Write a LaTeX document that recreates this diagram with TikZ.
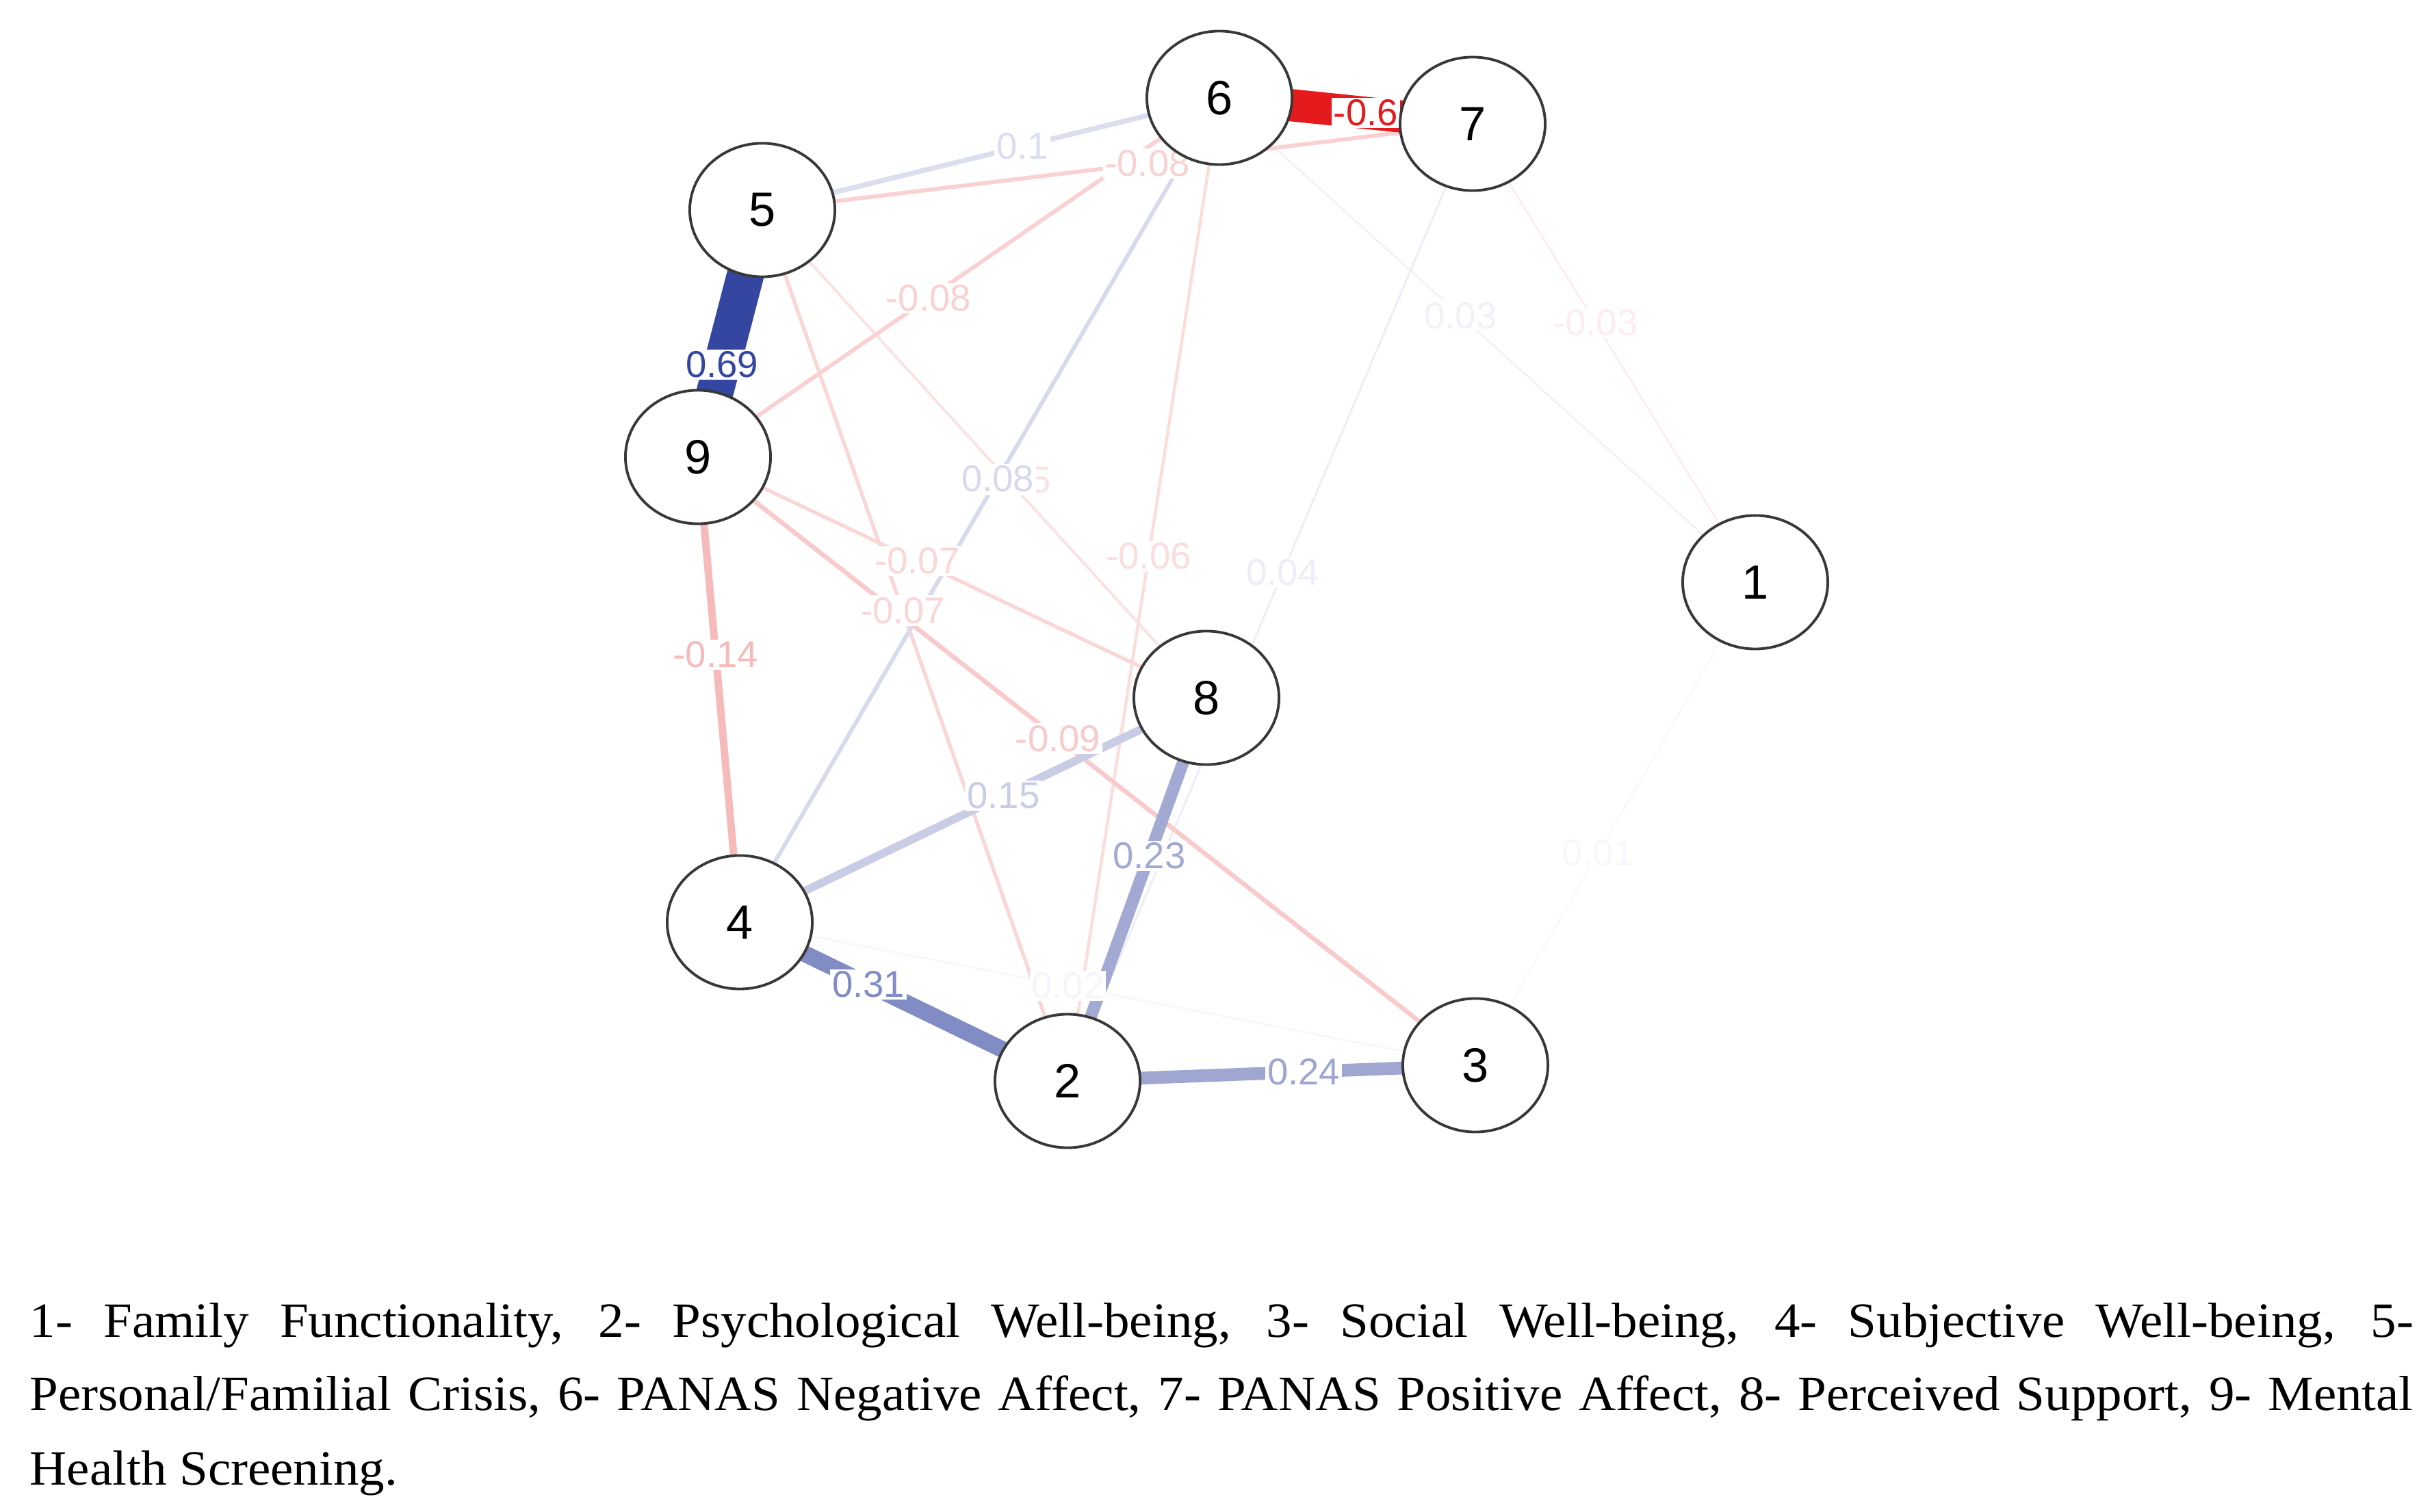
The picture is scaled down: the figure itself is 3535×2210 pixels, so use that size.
\documentclass[tikz,border=0pt]{standalone}
\usepackage{fontspec}
\setmainfont{Liberation Serif}[FakeStretch=1.04]
\newfontfamily\knotenfont{Liberation Sans}
\usepackage{tikz}
\usetikzlibrary{shapes.geometric,backgrounds,calc}
\definecolor{posblue}{RGB}{52,70,160}
\definecolor{negred}{RGB}{228,26,28}
\tikzset{
  knoten/.style={ellipse,draw=black!78,line width=1.1pt,fill=white,minimum width=2.12cm,minimum height=1.95cm,inner sep=0pt,font=\knotenfont\fontsize{20}{24}\selectfont},
  gewicht/.style={fill=white,inner sep=0.8pt,font=\knotenfont\fontsize{15.5}{17}\selectfont},
  legende/.style={anchor=base west,inner sep=0pt,font=\fontsize{20.5}{24}\selectfont}
}
%Kanten: von/nach/Gewicht/Breite in pt/Farbe/Lage der Beschriftung (schwach zuerst)
\newcommand\kantenliste{1/3/0.01/0.6/posblue!4/0.561,4/3/0.02/0.7/posblue!5/0.446,6/1/0.03/0.8/posblue!7/0.450,7/1/-0.03/0.8/negred!8/0.434,7/2/0.04/0.9/posblue!9/0.469,5/8/-0.05/1.1/negred!13/0.554,6/2/-0.06/1.3/negred!15/0.466,9/8/-0.07/1.5/negred!18/0.431,5/2/-0.07/1.5/negred!18/0.460,6/4/0.08/1.7/posblue!20/0.462,9/6/-0.08/1.7/negred!20/0.442,5/7/-0.08/1.7/negred!20/0.542,9/3/-0.09/1.9/negred!23/0.463,5/6/0.1/2.1/posblue!18/0.569,9/4/-0.14/3.1/negred!30/0.425,8/4/0.15/3.4/posblue!27/0.435,8/2/0.23/5.1/posblue!46/0.412,2/3/0.24/5.3/posblue!48/0.579,4/2/0.31/6.9/posblue!62/0.393,6/7/-0.6/13.4/negred!100/0.578,5/9/0.69/15.4/posblue!100/0.626}

\begin{document}
\begin{tikzpicture}[x=0.01cm,y=-0.01cm]
\useasboundingbox (0,0) rectangle (3535,2210);
%Knoten (Pixelkoordinaten)
\node[knoten] (n1) at (2565,851) {1};
\node[knoten] (n2) at (1560,1580) {2};
\node[knoten] (n3) at (2156,1557) {3};
\node[knoten] (n4) at (1081,1348) {4};
\node[knoten] (n5) at (1114,307) {5};
\node[knoten] (n6) at (1782,143) {6};
\node[knoten] (n7) at (2152,181) {7};
\node[knoten] (n8) at (1763,1020) {8};
\node[knoten] (n9) at (1020,668) {9};
\begin{scope}[on background layer]
\foreach \a/\b/\w/\lw/\col/\p in \kantenliste{
  \draw[line width=\lw pt,color=\col] (n\a.center) -- (n\b.center);
}
%Beschriftungen ueber allen Kanten
\foreach \a/\b/\w/\lw/\col/\p in \kantenliste{
  \node[gewicht,text=\col] (w\a\b) at ($(n\a)!\p!(n\b)$) {\w};
}
\end{scope}
%Legende
\node[legende] (leg1) at (43,1954) {\makebox[34.81cm][s]{1- Family Functionality, 2- Psychological Well-being, 3- Social Well-being, 4- Subjective Well-being, 5-}};
\node[legende] (leg2) at (43,2061) {\makebox[34.81cm][s]{Personal/Familial Crisis, 6- PANAS Negative Affect, 7- PANAS Positive Affect, 8- Perceived Support, 9- Mental}};
\node[legende] (leg3) at (43,2170) {Health Screening.};
\end{tikzpicture}
\end{document}
